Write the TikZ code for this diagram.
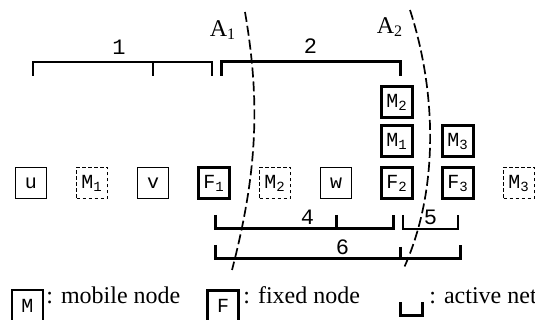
\documentclass[tikz,border=0pt]{standalone}
\usepackage{fontspec}
\setmainfont{Liberation Serif}
\setmonofont{Liberation Mono}
\usetikzlibrary{calc}
\begin{document}
\begin{tikzpicture}[x=0.5pt, y=-0.5pt,
    box/.style={draw, line width=0.65pt, minimum size=15.5pt, inner sep=0pt, font=\ttfamily\fontsize{10}{10}\selectfont},
    mob/.style={box},
    old/.style={box, line width=0.6pt, dash pattern=on 1.6pt off 1.4pt},
    fix/.style={box, line width=1.5pt},
    thinnet/.style={line width=0.8pt},
    thicknet/.style={line width=1.5pt},
    netlbl/.style={above, inner sep=1.5pt, font=\ttfamily\fontsize{11}{11}\selectfont},
    cut/.style={line width=0.85pt, dash pattern=on 5pt off 2pt},
    key/.style={inner sep=0pt, font=\fontsize{12}{12}\selectfont}]
  \useasboundingbox (0,0) rectangle (535,320);
  \node[mob] (u) at (31,183) {u};
  \node[old] (m1old) at (92,183) {M\textsubscript{1}};
  \node[mob] (v) at (153,183) {v};
  \node[fix] (f1) at (214,183) {F\textsubscript{1}};
  \node[old] (m2old) at (275,183) {M\textsubscript{2}};
  \node[mob] (w) at (336,183) {w};
  \node[fix] (f2) at (397,183) {F\textsubscript{2}};
  \node[fix] (m1) at (397,141) {M\textsubscript{1}};
  \node[fix] (m2) at (397,102) {M\textsubscript{2}};
  \node[fix] (f3) at (458,183) {F\textsubscript{3}};
  \node[fix] (m3) at (458,141) {M\textsubscript{3}};
  \node[old] (m3old) at (519,183) {M\textsubscript{3}};
  \draw[thinnet] ($(u |- 0,76)+(2,0)$) -- ($(u |- 0,62)+(2,0)$) -- node[netlbl, inner sep=3.5pt, pos=.48] {1} ($(f1 |- 0,62)+(-2,0)$) -- ($(f1 |- 0,76)+(-2,0)$);
  \draw[thinnet] (v |- 0,62) -- (v |- 0,76);
  \draw[thicknet] ($(f1 |- 0,76)+(7,0)$) -- ($(f1 |- 0,62)+(7,0)$) -- node[netlbl, inner sep=3.5pt] {2} ($(f2 |- 0,62)+(3,0)$) -- ($(f2 |- 0,76)+(3,0)$);
  \draw[thicknet] ($(f1 |- 0,215)+(1,0)$) -- ($(f1 |- 0,229)+(1,0)$) -- node[netlbl, pos=.52] {4} ($(f2 |- 0,229)+(-4,0)$) -- ($(f2 |- 0,215)+(-4,0)$);
  \draw[thicknet] (w |- 0,215) -- (w |- 0,229);
  \draw[thinnet] ($(f2 |- 0,215)+(6,0)$) -- ($(f2 |- 0,229)+(6,0)$) -- node[netlbl] {5} (f3 |- 0,229) -- (f3 |- 0,215);
  \draw[thicknet] ($(f1 |- 0,245)+(1,0)$) -- ($(f1 |- 0,259)+(1,0)$) -- node[netlbl, pos=.52] {6} ($(f3 |- 0,259)+(2,0)$) -- ($(f3 |- 0,245)+(2,0)$);
  \draw[thicknet] ($(f2 |- 0,247)+(3,0)$) -- ($(f2 |- 0,259)+(3,0)$);
  \draw[cut] (245,12) .. controls (260,100) and (258,170) .. (232,270);
  \draw[cut] (410,10) .. controls (436,90) and (440,190) .. (403,270);
  \node[key] (a1) at (223,30) {A\textsubscript{1}};
  \node[key] (a2) at (390,27) {A\textsubscript{2}};
  \node[mob] (mkey) at (27.5,305.5) {M};
  \node[key, anchor=base west] (mtxt) at (46,303) {: mobile node};
  \node[fix] (fkey) at (223,305.5) {F};
  \node[key, anchor=base west] (ftxt) at (243,303) {: fixed node};
  \coordinate (netkey) at (400,302);
  \draw[thicknet] (netkey) |- ++(22,13) -- ++(0,-13);
  \node[key, anchor=base west] (ntxt) at (429,303) {: active net};
\end{tikzpicture}
\end{document}
